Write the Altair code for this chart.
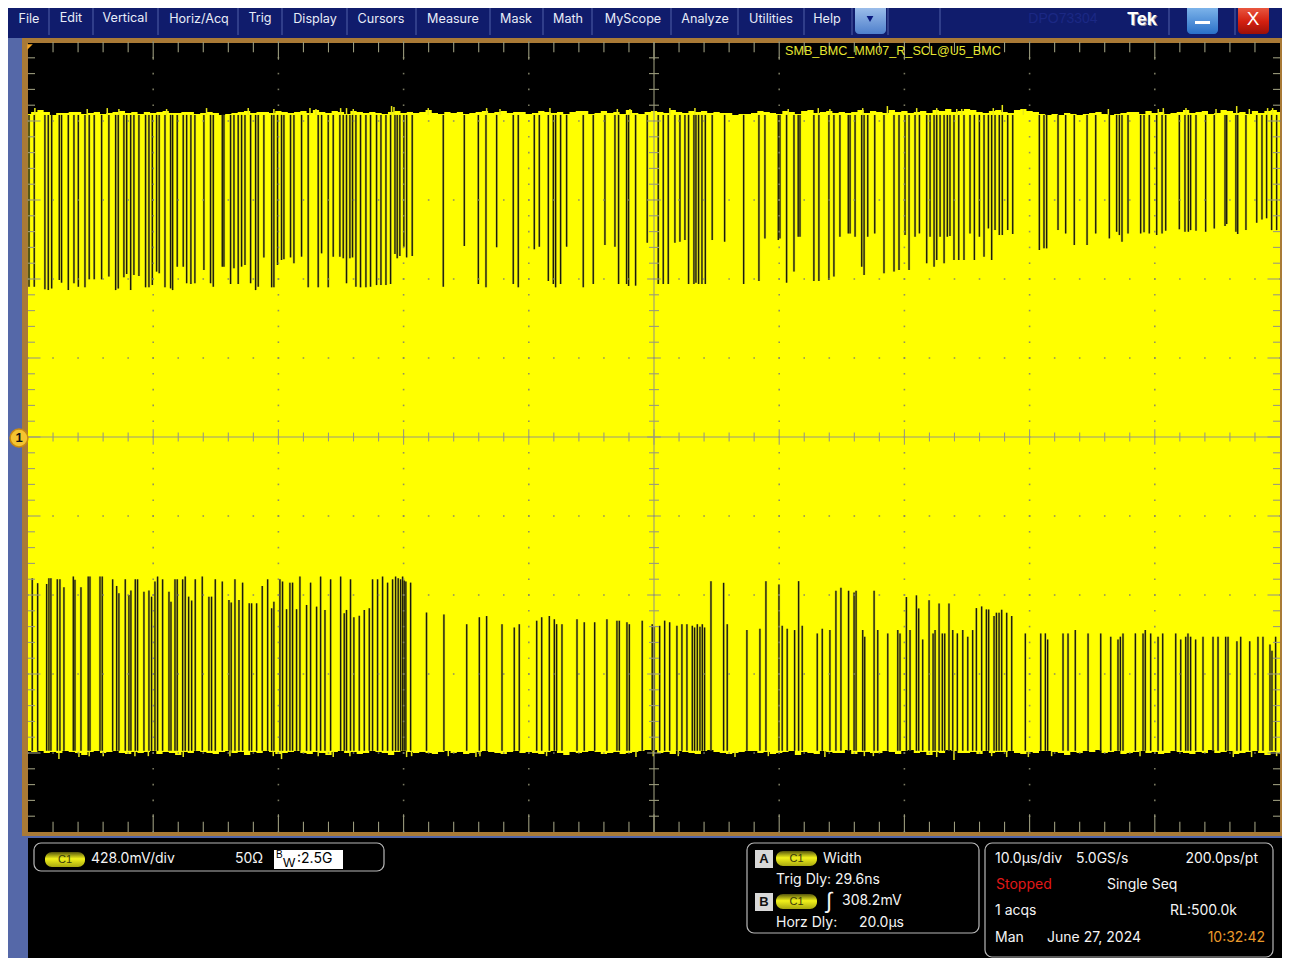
import altair as alt
import pandas as pd

# ---------- waveform readings: time in microseconds, level in millivolts ----------
top_gap_t = [-49.92,-49.50,-48.65,-48.38,-48.11,-47.50,-47.32,-46.78,-46.33,-45.98,-45.45,-45.11,-44.71,-44.12,-43.54,-43.00,-42.79,-42.34,-42.12,-41.80,-41.54,-41.14,-40.61,-40.34,-40.07,-39.73,-39.52,-39.06,-38.61,-38.45,-38.08,-37.60,-37.33,-36.99,-36.67,-35.95,-35.42,-35.20,-34.48,-34.35,-33.82,-33.55,-33.21,-32.94,-32.67,-32.22,-31.82,-31.61,-31.16,-30.54,-30.36,-30.07,-29.75,-29.56,-29.03,-28.76,-28.15,-27.62,-26.82,-26.55,-26.02,-25.62,-25.09,-24.82,-24.56,-24.29,-24.08,-23.81,-23.44,-23.01,-22.64,-22.16,-21.81,-21.41,-21.04,-20.69,-20.51,-20.30,-19.98,-19.76,-19.31,
  -16.83,-15.15,-14.03,-13.42,-12.57,-11.24,-10.84,-9.56,-9.16,-8.44,-8.04,-7.86,-7.46,-6.98,-5.65,-4.85,-3.92,-3.12,-2.83,-2.19,-2.03,-1.47,-0.54,0.34,0.74,1.14,1.67,2.07,2.47,2.76,3.19,3.35,3.56,3.83,4.10,4.65,5.64,7.16,8.38,8.86,9.93,10.06,10.59,11.18,11.52,11.66,12.77,13.17,13.97,14.37,14.85,15.52,
  15.66,16.06,16.59,16.78,17.07,17.63,18.37,19.17,19.57,20.05,20.37,20.85,21.20,21.78,22.05,22.37,22.58,22.85,23.17,23.43,23.64,23.96,24.34,24.76,25.24,25.59,25.99,26.36,26.71,26.97,27.24,27.58,27.82,28.25,28.65,30.78,31.15,31.36,32.27,32.88,33.57,34.59,35.28,36.37,36.95,37.17,37.38,37.86,38.87,39.14,39.56,40.15,40.58,40.87,41.96,42.41,42.68,42.86,43.29,44.06,44.75,45.61,45.74,46.48,46.62,47.28,48.14,48.56,48.93,49.33,49.73]
top_gap_mv = [814,814,800,796,805,851,836,796,833,814,811,854,854,854,869,796,805,865,883,796,878,872,811,811,823,896,887,811,805,796,923,923,833,829,833,905,833,814,923,923,829,914,829,923,932,833,796,814,973,811,811,932,959,963,973,941,977,811,811,995,811,977,977,968,833,968,973,814,811,811,814,823,823,823,829,992,968,981,1031,973,981,
  814,1035,829,811,1028,829,811,1017,1031,845,829,811,829,1031,811,829,1040,1031,829,829,818,820,1053,829,829,829,1053,1058,1067,829,829,836,829,829,829,1067,1058,829,845,1076,1067,1076,836,896,1085,1085,845,845,851,869,1085,1103,
  1103,1085,923,878,1085,1103,887,896,905,1094,905,1085,1103,941,1085,923,959,1085,941,1085,1089,959,959,959,1103,959,1085,977,1130,959,1121,1094,1094,1121,1100,1013,1022,1022,1121,1103,1040,1040,1103,1076,1112,1094,1058,1103,1103,1109,1103,1094,1103,1118,1125,1112,1112,1121,1118,1112,1130,1143,1154,1112,1100,1121,1161,1179,1185,1121,1121]

bot_gap_t = [-49.66,-49.23,-48.51,-48.33,-48.17,-47.66,-47.45,-47.13,-46.38,-46.25,-45.77,-45.19,-45.05,-44.25,-44.07,-43.24,-42.92,-42.74,-42.23,-41.94,-41.78,-41.43,-41.25,-40.74,-40.34,-40.13,-39.86,-39.65,-39.25,-38.74,-38.58,-38.26,-38.08,-37.65,-37.44,-37.17,-36.93,-36.64,-36.08,-35.55,-35.34,-35.04,-34.48,-33.95,-33.77,-33.47,-33.15,-32.86,-32.33,-32.14,-31.74,-31.29,-30.86,-30.54,-30.36,-29.88,-29.67,-29.35,-29.08,-28.87,-28.55,-28.28,-27.75,-27.43,-26.95,-26.63,-26.28,-25.83,-25.03,-24.74,-24.56,-24.24,-23.97,-23.54,-23.14,-22.74,-22.48,-22.08,-21.68,-21.28,-20.88,-20.64,-20.43,-20.24,-20.08,-19.95,-19.82,-19.44,-18.17,
  -16.78,-14.96,-13.95,-13.37,-12.14,-11.16,-10.76,-9.37,-8.97,-8.36,-7.96,-7.78,-7.35,-6.15,-5.57,-4.74,-3.76,-2.96,-2.77,-2.16,-1.97,-0.94,-0.14,0.02,0.45,0.85,1.25,1.83,2.23,2.63,3.06,3.24,3.46,3.67,3.86,4.04,4.55,5.56,5.85,7.42,8.46,8.94,9.98,10.24,10.64,11.23,11.55,11.84,13.04,13.44,14.05,14.53,14.93,15.54,
  15.98,16.14,16.67,16.83,17.58,17.87,18.67,19.47,19.65,20.16,20.45,20.96,21.14,21.46,21.97,22.29,22.45,22.77,23.03,23.22,23.56,23.86,24.23,24.66,25.06,25.45,25.75,26.17,26.55,26.73,27.16,27.35,27.56,27.77,28.17,28.57,29.66,30.89,31.26,31.44,32.67,33.07,33.65,34.67,35.68,36.48,37.06,37.25,37.46,38.45,39.06,39.24,39.67,40.26,40.63,41.67,42.07,42.47,42.65,42.86,43.26,43.85,44.65,45.05,45.66,45.85,46.56,46.86,47.58,48.24,48.64,49.20,49.36,49.65]
bot_gap_mv = [-765,-792,-796,-765,-765,-771,-771,-814,-756,-774,-814,-756,-756,-756,-756,-771,-807,-847,-771,-856,-832,-771,-771,-838,-832,-865,-783,-756,-771,-838,-892,-771,-771,-771,-756,-865,-886,-771,-756,-865,-865,-771,-783,-883,-897,-771,-883,-789,-901,-901,-901,-807,-771,-928,-892,-771,-783,-933,-789,-789,-933,-756,-910,-789,-919,-756,-937,-771,-756,-955,-937,-771,-977,-969,-937,-928,-771,-771,-756,-789,-771,-756,-765,-771,-756,-778,-783,-789,-951,
  -961,-1014,-977,-970,-1014,-1032,-1014,-995,-977,-970,-988,-1014,-1014,-988,-1004,-1004,-988,-995,-995,-1004,-1014,-995,-1014,-1028,-1023,-995,-1004,-1023,-1014,-1014,-1023,-1032,-1014,-1028,-1014,-1032,-781,-790,-1014,-1046,-1039,-781,-799,-1023,-1039,-1046,-781,-1023,-1064,-1039,-1046,-833,-817,-833,
  -842,-833,-1046,-1082,-833,-1046,-1064,-1046,-1064,-867,-1046,-858,-929,-1097,-884,-1064,-1046,-902,-1064,-1064,-902,-1046,-1064,-1046,-1082,-1046,-927,-918,-934,-934,-970,-952,-952,-936,-952,-970,-1064,-1064,-1064,-1097,-1064,-1064,-1046,-1064,-1064,-1082,-1097,-1082,-1064,-1064,-1064,-1046,-1064,-1082,-1064,-1064,-1097,-1082,-1064,-1082,-1097,-1082,-1082,-1082,-1082,-1082,-1107,-1082,-1107,-1082,-1082,-1124,-1158,-1082]

# upper and lower edge of the trace, read at half-microsecond spacing
env_t = [-50,-49.5,-49,-48.5,-48,-47.5,-47,-46.5,-46,-45.5,-45,-44.5,-44,-43.5,-43,-42.5,-42,-41.5,-41,-40.5,-40,-39.5,-39,-38.5,-38,-37.5,-37,-36.5,-36,-35.5,-35,-34.5,-34,-33.5,-33,-32.5,-32,-31.5,-31,-30.5,-30,-29.5,-29,-28.5,-28,-27.5,-27,-26.5,-26,-25.5,-25,-24.5,-24,-23.5,-23,-22.5,-22,-21.5,-21,-20.5,-20,-19.5,-19,-18.5,-18,-17.5,-17,-16.5,-16,-15.5,-15,-14.5,-14,-13.5,-13,-12.5,-12,-11.5,-11,-10.5,-10,-9.5,-9,-8.5,-8,-7.5,-7,-6.5,-6,-5.5,-5,-4.5,-4,-3.5,-3,-2.5,-2,-1.5,-1,-0.5,0,0.5,1,1.5,2,2.5,3,3.5,4,4.5,5,5.5,6,6.5,7,7.5,8,8.5,9,9.5,10,10.5,11,11.5,12,12.5,13,13.5,14,14.5,15,15.5,16,16.5,17,17.5,18,18.5,19,19.5,20,20.5,21,21.5,22,22.5,23,23.5,24,24.5,25,25.5,26,26.5,27,27.5,28,28.5,29,29.5,30,30.5,31,31.5,32,32.5,33,33.5,34,34.5,35,35.5,36,36.5,37,37.5,38,38.5,39,39.5,40,40.5,41,41.5,42,42.5,43,43.5,44,44.5,45,45.5,46,46.5,47,47.5,48,48.5,49,49.5,50]
env_hi = [1750,1761,1772,1761,1745,1755,1755,1761,1761,1750,1755,1761,1750,1755,1761,1766,1755,1761,1750,1761,1755,1761,1766,1755,1755,1761,1761,1750,1755,1761,1755,1745,1750,1755,1761,1766,1755,1761,1761,1755,1766,1761,1755,1761,1766,1755,1772,1761,1755,1766,1761,1750,1766,1761,1755,1761,1755,1750,1761,1766,1755,1761,1755,1761,1772,1755,1750,1761,1755,1761,1750,1755,1761,1766,1755,1761,1766,1755,1761,1761,1750,1755,1766,1761,1755,1761,1750,1761,1766,1766,1750,1755,1766,1755,1761,1750,1772,1755,1750,1761,1766,1761,1755,1772,1761,1755,1766,1761,1766,1755,1761,1755,1755,1745,1750,1750,1755,1766,1761,1755,1750,1766,1761,1750,1766,1772,1755,1761,1766,1755,1761,1755,1761,1772,1755,1766,1761,1755,1772,1761,1766,1755,1761,1766,1755,1772,1766,1777,1761,1766,1777,1772,1761,1755,1766,1772,1761,1755,1772,1777,1766,1761,1750,1745,1750,1745,1755,1750,1745,1750,1755,1761,1750,1745,1750,1755,1761,1761,1750,1766,1755,1761,1750,1755,1761,1772,1755,1761,1766,1750,1755,1772,1766,1755,1761,1750,1766,1755,1766,1772,1761]
env_lo = [-1701,-1707,-1701,-1712,-1707,-1712,-1701,-1707,-1712,-1723,-1707,-1701,-1712,-1707,-1701,-1712,-1718,-1707,-1712,-1707,-1701,-1718,-1707,-1712,-1723,-1707,-1712,-1701,-1707,-1712,-1718,-1707,-1701,-1712,-1707,-1723,-1707,-1712,-1701,-1707,-1718,-1712,-1707,-1701,-1712,-1718,-1707,-1712,-1723,-1707,-1701,-1712,-1707,-1718,-1712,-1701,-1707,-1712,-1723,-1707,-1701,-1707,-1712,-1707,-1712,-1718,-1707,-1701,-1712,-1707,-1718,-1712,-1707,-1701,-1707,-1712,-1718,-1707,-1701,-1712,-1707,-1712,-1718,-1707,-1701,-1712,-1723,-1707,-1712,-1707,-1701,-1707,-1718,-1712,-1707,-1718,-1712,-1707,-1701,-1696,-1696,-1712,-1707,-1718,-1701,-1707,-1712,-1718,-1701,-1696,-1707,-1712,-1718,-1712,-1707,-1701,-1701,-1712,-1707,-1718,-1712,-1707,-1701,-1723,-1707,-1712,-1718,-1701,-1707,-1712,-1712,-1696,-1718,-1707,-1707,-1712,-1712,-1701,-1707,-1718,-1701,-1696,-1712,-1707,-1723,-1707,-1712,-1696,-1701,-1712,-1712,-1707,-1718,-1701,-1712,-1707,-1707,-1701,-1712,-1718,-1707,-1712,-1701,-1701,-1707,-1712,-1723,-1707,-1712,-1701,-1707,-1696,-1712,-1707,-1701,-1718,-1712,-1707,-1701,-1712,-1707,-1718,-1712,-1701,-1707,-1712,-1718,-1707,-1712,-1696,-1712,-1707,-1701,-1718,-1712,-1707,-1701,-1712,-1723,-1707,-1712]

# small overshoots that stand out of the edges
top_spike_t = [-49.45,-45.27,-43.67,-42.74,-38.93,-35.74,-32.41,-30.36,-27.48,-27.00,-25.03,-24.56,-24.02,-20.96,-20.77,-18.03,-13.37,-12.30,-8.31,-2.93,-1.92,1.27,3.27,10.72,13.12,14.05,16.67,18.64,20.98,22.58,24.18,24.58,27.10,27.82,29.50,36.29,40.28,40.68,42.49,44.89,46.54,47.55,49.01,49.41]
top_spike_mv = [1782,1777,1782,1777,1777,1782,1782,1777,1782,1777,1782,1782,1777,1793,1788,1782,1782,1777,1782,1777,1777,1782,1782,1777,1782,1777,1782,1793,1782,1782,1777,1777,1782,1799,1777,1777,1777,1782,1782,1777,1793,1777,1782,1782]
bot_spike_t = [-47.53,-45.93,-45.11,-43.99,-41.46,-40.39,-37.60,-33.87,-30.41,-29.75,-26.82,-25.62,-24.29,-19.76,-19.36,-16.43,-14.22,-13.90,-8.58,-1.44,-0.06,1.94,6.47,9.13,13.65,16.80,17.52,22.58,23.96,26.97,28.17,29.90,31.76,38.82,46.27,47.73,49.73]
bot_spike_mv = [-1745,-1734,-1729,-1729,-1729,-1729,-1734,-1729,-1729,-1745,-1729,-1734,-1729,-1734,-1729,-1729,-1734,-1729,-1729,-1734,-1729,-1729,-1734,-1729,-1734,-1729,-1729,-1734,-1750,-1729,-1734,-1734,-1729,-1729,-1734,-1734,-1729]

menu_items = ["File","Edit","Vertical","Horiz/Acq","Trig","Display","Cursors","Measure","Mask","Math","MyScope","Analyze","Utilities","Help"]
menu_x = [29,71,125,199,260,315,381,453,516,568,633,705,771,827]
menu_y = [18,17,17,18,17,18,18,18,18,18,18,18,18,18]
menu_sep = [49,93,158,238,282,347,416,490,543,592,671,738,804,852,888,940,1169,1235]

OX, OY = 8, 8
X_SCALE = alt.Scale(domain=[-50, 50], range=[20, 1272], nice=False, zero=False)
Y_SCALE = alt.Scale(domain=[-2140, 2140], range=[824, 34], nice=False, zero=False)
SANS = "Inter"
seed = alt.Data(values=[{"k": 0}])


def box(x0, y0, x1, y1, color, **kw):
    return alt.Chart(seed).mark_rect(color=color, **kw).encode(
        x=alt.value(x0 - OX), x2=alt.value(x1 - OX), y=alt.value(y0 - OY), y2=alt.value(y1 - OY))


def label(s, x, y, size=14, color="#f4f4f4", align="left", font=SANS, weight="normal", italic=False):
    kw = {"fontStyle": "italic"} if italic else {}
    return alt.Chart(seed).mark_text(text=s, fontSize=size, color=color, align=align, baseline="middle",
                                     font=font, fontWeight=weight, **kw).encode(
        x=alt.value(x - OX), y=alt.value(y - OY + 1))


def vgrad(*stops):
    return alt.LinearGradient(gradient="linear", x1=0, x2=0, y1=0, y2=1,
                              stops=[alt.GradientStop(color=c, offset=o) for c, o in stops])


def pill(x0, y0, x1, y1):
    return [box(x0, y0, x1, y1, vgrad(("#55550c", 0), ("#f2f21a", 0.45), ("#a8a810", 1)), cornerRadius=7),
            label("C1", (x0 + x1) / 2, (y0 + y1) / 2 - 0.5, size=11, color="#39390a", align="center", font="Liberation Sans")]


def scope_rules(rows, color, width, opacity=1.0):
    return alt.Chart(pd.DataFrame(rows)).mark_rule(color=color, strokeWidth=width, opacity=opacity).encode(
        x=alt.X("t:Q", scale=X_SCALE, axis=None), x2="t2",
        y=alt.Y("v:Q", scale=Y_SCALE, axis=None), y2="v2")


layers = [
    box(8, 8, 1290, 958, "#5568a8"),
    box(8, 0, 1290, 38, "#101c6c"),
    box(22, 38, 1284, 836, "#a97a36"),
    box(28, 43, 1280, 832, "#000000"),
    box(28, 838, 1284, 958, "#000000"),
]

# trace body
env = pd.DataFrame({"t": env_t, "hi": env_hi, "lo": env_lo})
layers.append(alt.Chart(env).mark_area(color="#ffff00", interpolate="step").encode(
    x=alt.X("t:Q", scale=X_SCALE, axis=None),
    y=alt.Y("hi:Q", scale=Y_SCALE, axis=None), y2="lo"))
spikes = [{"t": t, "t2": t, "v": 1745, "v2": v} for t, v in zip(top_spike_t, top_spike_mv)] + \
         [{"t": t, "t2": t, "v": -1700, "v2": v} for t, v in zip(bot_spike_t, bot_spike_mv)]
layers.append(scope_rules(spikes, "#e8e818", 1.5))

# gaps in the trace
rows = [{"t": t, "t2": t, "v": 1745, "v2": v} for t, v in zip(top_gap_t, top_gap_mv)] + \
       [{"t": t, "t2": t, "v": -1700, "v2": v} for t, v in zip(bot_gap_t, bot_gap_mv)]
layers.append(scope_rules(rows, "#b4b434", 2.4, 0.75))
layers.append(scope_rules(rows, "#1c1c08", 1.3))

# graticule
DIV_T, DIV_V = 10.0, 428.0
dots = [{"t": i * DIV_T, "v": j * DIV_V / 5} for i in range(-4, 5) if i for j in range(-25, 26)] + \
       [{"t": j * DIV_T / 5, "v": i * DIV_V} for i in range(-4, 5) if i for j in range(-25, 26)]
layers.append(alt.Chart(pd.DataFrame(dots)).mark_square(size=2.5, color="#85856a", opacity=0.9).encode(
    x=alt.X("t:Q", scale=X_SCALE, axis=None), y=alt.Y("v:Q", scale=Y_SCALE, axis=None)))

ticks = [{"t": -50, "t2": 50, "v": 0, "v2": 0}, {"t": 0, "t2": 0, "v": -2140, "v2": 2140}]
for j in range(1, 50):
    t = -50 + j * 2.0
    major = j % 5 == 0
    d = 96 if major else 56
    ticks.append({"t": t, "t2": t, "v": 2140, "v2": 2140 - d})
    ticks.append({"t": t, "t2": t, "v": -2140, "v2": -2140 + d})
    c = 42 if major else 24
    ticks.append({"t": t, "t2": t, "v": -c, "v2": c})
for j in range(1, 50):
    v = -2140 + j * 85.6
    major = j % 5 == 0
    d = 1.0 if major else 0.56
    ticks.append({"t": -50, "t2": -50 + d, "v": v, "v2": v})
    ticks.append({"t": 50, "t2": 50 - d, "v": v, "v2": v})
    c = 0.55 if major else 0.4
    ticks.append({"t": -c, "t2": c, "v": v, "v2": v})
layers.append(scope_rules(ticks, "#9a9a7c", 1.1))

# markers
layers.append(alt.Chart(seed).mark_point(shape="M -1 -1 L 1 -1 L -1 1 Z", filled=True, color="#f5a623", opacity=1, size=30).encode(
    x=alt.value(30 - OX), y=alt.value(47 - OY)))
layers.append(alt.Chart(seed).mark_circle(color="#f4c430", stroke="#c98a10", strokeWidth=1.5, size=320, opacity=1).encode(
    x=alt.value(19 - OX), y=alt.value(438 - OY)))
layers.append(label("1", 19, 437, size=13, color="#111111", align="center", weight="bold", font="Liberation Sans"))
layers.append(label("SMB_BMC_MM07_R_SCL@U5_BMC", 785, 50, size=12.6, color="#e6e632", font="Liberation Sans"))

# menu bar
sep = pd.DataFrame({"x": [s - OX for s in menu_sep]})
layers.append(alt.Chart(sep).mark_rule(color="#5060a8", strokeWidth=1).encode(
    x=alt.X("x:Q", scale=None), y=alt.value(0), y2=alt.value(27)))
for s, x, y in zip(menu_items, menu_x, menu_y):
    layers.append(label(s, x, y, size=12.6, color="#e8ecf8", align="center"))
layers.append(box(855, 4, 886, 34, vgrad(("#a6c6ee", 0), ("#4f80cc", 1)), cornerRadius=4))
layers.append(alt.Chart(seed).mark_point(shape="triangle-down", filled=True, color="#0a1a80", opacity=1, size=45).encode(
    x=alt.value(870 - OX), y=alt.value(19 - OY)))
layers.append(label("DPO73304", 1063, 18, size=14, color="#1b2884", align="center", font="Liberation Sans"))
layers.append(label("Tek", 1143, 20, size=18, color="#8e8e9a", align="center", weight="bold", font="Liberation Sans"))
layers.append(label("Tek", 1142, 19, size=18, color="#ffffff", align="center", weight="bold", font="Liberation Sans"))
layers.append(box(1187, 3, 1218, 34, vgrad(("#8cc0f0", 0), ("#2a70c8", 1)), cornerRadius=4))
layers.append(box(1195, 21, 1210, 24, "#ffffff"))
layers.append(box(1238, 3, 1269, 34, vgrad(("#f06a50", 0), ("#d42010", 0.6), ("#9c1008", 1)), cornerRadius=4))
layers.append(label("X", 1253, 18, size=19, color="#ffffff", align="center", font="Liberation Sans"))

# lower status panels
for x0, y0, x1, y1 in [(34, 843, 384, 871), (747, 843, 979, 933), (985, 843, 1273, 957)]:
    layers.append(box(x0, y0, x1, y1, "#000000", stroke="#b8b8b8", strokeWidth=1.2, cornerRadius=7))
layers += pill(45, 852, 85, 867)
layers.append(label("428.0mV/div", 91, 858))
layers.append(label("50Ω", 235, 858))
layers.append(box(274, 850, 343, 869, "#ffffff"))
layers.append(label("B", 276, 854, size=10, color="#000000", font="Liberation Sans"))
layers.append(label("W", 283, 862, size=13, color="#000000", font="Liberation Sans"))
layers.append(label(":2.5G", 297, 858, color="#000000"))

for y, s in [(850, "A"), (893, "B")]:
    layers.append(box(755, y, 773, y + 18, "#d8d8d8"))
    layers.append(label(s, 764, y + 8, size=13, color="#111111", align="center", weight="bold", font="Liberation Sans"))
layers += pill(776, 851, 817, 866)
layers += pill(776, 894, 817, 909)
layers.append(label("Width", 823, 858))
layers.append(label("Trig Dly: 29.6ns", 776, 879))
layers.append(label("∫", 829, 900, size=22, align="center", italic=True, font="Liberation Sans"))
layers.append(label("308.2mV", 842, 900))
layers.append(label("Horz Dly:", 776, 922))
layers.append(label("20.0µs", 904, 922, align="right"))

layers.append(label("10.0µs/div", 995, 858))
layers.append(label("5.0GS/s", 1076, 858))
layers.append(label("200.0ps/pt", 1258, 858, align="right"))
layers.append(label("Stopped", 996, 884, color="#e01818"))
layers.append(label("Single Seq", 1107, 884))
layers.append(label("1 acqs", 995, 910))
layers.append(label("RL:500.0k", 1170, 910))
layers.append(label("Man", 995, 937))
layers.append(label("June 27, 2024", 1047, 937))
layers.append(label("10:32:42", 1265, 937, color="#e89a2c", align="right"))

chart = alt.layer(*layers).properties(
    width=1274, height=950, padding=0, autosize=alt.AutoSizeParams(type="none"),
    background="#cdd5f5",
).configure_view(stroke=None)

chart.save("out.html", embed_options={"renderer": "svg", "actions": False})
